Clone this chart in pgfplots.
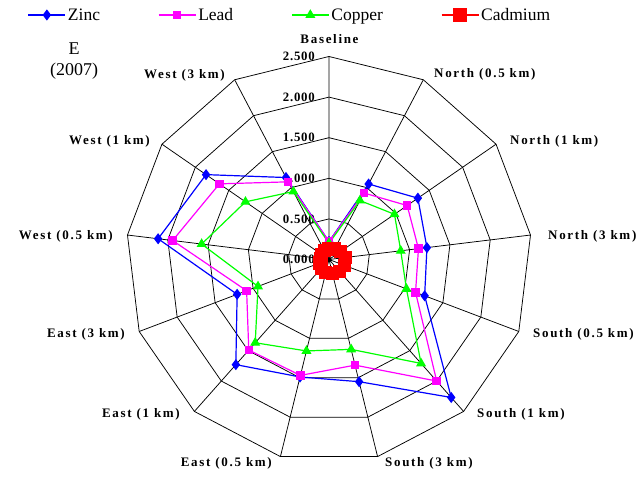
\documentclass[border=0pt]{standalone}
\usepackage{fontspec}
\setmainfont{Liberation Serif}
\newfontfamily\lblfont[LetterSpace=13]{Liberation Serif}
\newfontfamily\numfont[LetterSpace=6]{Liberation Serif}
\usepackage{pgfplots}
\usepackage{pgfplotstable}
\pgfplotsset{compat=1.18}
\usepgfplotslibrary{polar}
\definecolor{cblue}{RGB}{0,0,255}
\definecolor{cmag}{RGB}{255,0,255}
\definecolor{cgreen}{RGB}{0,255,0}
\definecolor{cred}{RGB}{255,0,0}

\pgfplotstableread{
a zinc lead copper cadmium
90 0.22 0.22 0.20 0.13
62.3077 1.05 0.925 0.82 0.15
34.6154 1.33 1.17 0.98 0.17
6.9231 1.215 1.11 0.89 0.20
-20.7692 1.26 1.14 1.02 0.20
-48.4615 2.27 2.00 1.71 0.20
-76.1538 1.55 1.34 1.14 0.18
-103.8462 1.49 1.47 1.16 0.16
-131.5385 1.73 1.49 1.37 0.14
-159.2308 1.21 1.085 0.935 0.12
-186.9231 2.12 1.94 1.58 0.10
-214.6154 1.84 1.64 1.25 0.11
-242.3077 1.14 1.08 0.945 0.12
-270 0.22 0.22 0.20 0.13
}\data

\pgfplotstableread{
a r
90 2.5
90 0
62.3077 2.5
62.3077 0
34.6154 2.5
34.6154 0
6.9231 2.5
6.9231 0
-20.7692 2.5
-20.7692 0
-48.4615 2.5
-48.4615 0
-76.1538 2.5
-76.1538 0
-103.8462 2.5
-103.8462 0
-131.5385 2.5
-131.5385 0
-159.2308 2.5
-159.2308 0
-186.9231 2.5
-186.9231 0
-214.6154 2.5
-214.6154 0
-242.3077 2.5
-242.3077 0
}\spokes

\newcommand\lbl{\lblfont\bfseries\fontsize{13}{15}\selectfont}
\newcommand\num{\numfont\bfseries\fontsize{12.8}{15}\selectfont}

\begin{document}
\begin{tikzpicture}
\path[use as bounding box] (0,0) rectangle (641pt,479pt);
\begin{polaraxis}[
  at={(329pt,219.5pt)}, anchor=center,
  scale only axis, width=406pt, height=406pt,
  ymin=0, ymax=2.5, hide axis, clip=false,
  gridline/.style={black, line width=0.75pt, no marks, forget plot},
  legend style={draw=none, fill=none, legend columns=4,
    at={(axis description cs:-0.2424,1.1022)}, anchor=west,
    inner sep=0pt, nodes={inner sep=2pt},
    font=\fontsize{17.5}{20}\selectfont,
    /tikz/every even column/.append style={column sep=56pt}},
  legend image code/.code={\draw[mark repeat=2,mark phase=2,#1] plot coordinates {(0pt,0pt) (18.5pt,0pt) (37pt,0pt)};},
]
\addplot[gridline] table[x=a, y=r]{\spokes};
\addplot[gridline] table[x=a, y expr=0.5]{\data};
\addplot[gridline] table[x=a, y expr=1.0]{\data};
\addplot[gridline] table[x=a, y expr=1.5]{\data};
\addplot[gridline] table[x=a, y expr=2.0]{\data};
\addplot[gridline] table[x=a, y expr=2.5]{\data};

\node[anchor=east, inner sep=0pt, font=\num, xshift=-14pt] at (axis cs:90,0) {0.000};
\node[anchor=east, inner sep=0pt, font=\num, xshift=-14pt] at (axis cs:90,0.5) {0.500};
\node[anchor=east, inner sep=0pt, font=\num, xshift=-14pt] at (axis cs:90,1.0) {1.000};
\node[anchor=east, inner sep=0pt, font=\num, xshift=-14pt] at (axis cs:90,1.5) {1.500};
\node[anchor=east, inner sep=0pt, font=\num, xshift=-14pt] at (axis cs:90,2.0) {2.000};
\node[anchor=east, inner sep=0pt, font=\num, xshift=-14pt] at (axis cs:90,2.5) {2.500};

\addplot[cblue, line width=1.2pt, mark=diamond*, mark size=4.6pt, mark options={solid, fill=cblue}] table[x=a, y=zinc]{\data};
\addlegendentry{Zinc}
\addplot[cmag, line width=1.2pt, mark=square*, mark size=3.6pt, mark options={solid, fill=cmag}] table[x=a, y=lead]{\data};
\addlegendentry{Lead}
\addplot[cgreen, line width=1.2pt, mark=triangle*, mark size=4.6pt, mark options={solid, fill=cgreen}] table[x=a, y=copper]{\data};
\addlegendentry{Copper}
\addplot[cred, line width=1.2pt, mark=square*, mark size=6pt, mark options={solid, fill=cred}] table[x=a, y=cadmium]{\data};
\addlegendentry{Cadmium}
\end{polaraxis}

\node[anchor=base, font=\lbl, inner sep=0pt] at (329.5pt,435pt) {Baseline};
\node[anchor=base west, font=\lbl, inner sep=0pt] at (434pt,401pt) {North (0.5 km)};
\node[anchor=base west, font=\lbl, inner sep=0pt] at (510pt,334pt) {North (1 km)};
\node[anchor=base west, font=\lbl, inner sep=0pt] at (548pt,239pt) {North (3 km)};
\node[anchor=base west, font=\lbl, inner sep=0pt] at (533pt,141pt) {South (0.5 km)};
\node[anchor=base west, font=\lbl, inner sep=0pt] at (477pt,61pt) {South (1 km)};
\node[anchor=base west, font=\lbl, inner sep=0pt] at (385pt,12pt) {South (3 km)};
\node[anchor=base east, font=\lbl, inner sep=0pt] at (272pt,12pt) {East (0.5 km)};
\node[anchor=base east, font=\lbl, inner sep=0pt] at (180pt,61pt) {East (1 km)};
\node[anchor=base east, font=\lbl, inner sep=0pt] at (125pt,141pt) {East (3 km)};
\node[anchor=base east, font=\lbl, inner sep=0pt] at (113pt,239pt) {West (0.5 km)};
\node[anchor=base east, font=\lbl, inner sep=0pt] at (150pt,334pt) {West (1 km)};
\node[anchor=base east, font=\lbl, inner sep=0pt] at (225pt,400pt) {West (3 km)};

\node[anchor=base, inner sep=0pt, font=\fontsize{18}{21}\selectfont] at (74pt,424pt) {E};
\node[anchor=base, inner sep=0pt, font=\fontsize{18}{21}\selectfont] at (74pt,403pt) {(2007)};
\end{tikzpicture}
\end{document}
